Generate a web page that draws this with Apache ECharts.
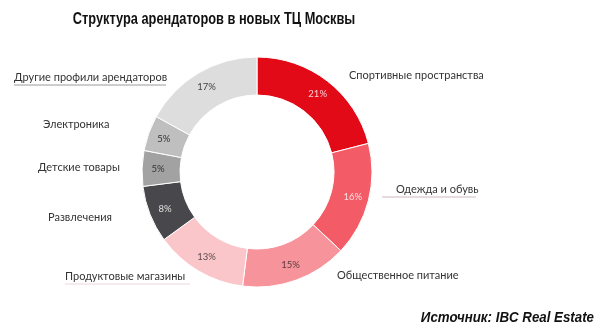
<!DOCTYPE html>
<html><head><meta charset="utf-8">
<script src="https://cdn.jsdelivr.net/npm/echarts@6/dist/echarts.min.js"></script>
<style>html,body{margin:0;padding:0;background:#fff}#c{width:600px;height:331px}</style>
</head><body><div id="c"></div>
<script>
const categories = ['Спортивные пространства','Одежда и обувь','Общественное питание','Продуктовые магазины','Развлечения','Детские товары','Электроника','Другие профили арендаторов'];
const values = [21,16,15,13,8,5,5,17];
const colors = ['#e20a17','#f35c66','#f7939a','#fbc6ca','#48484c','#a2a2a2','#bfbfbf','#dddddd'];
const pctColors = ['#fbd0d3','#fde0e2','#5a3a3c','#5a4a4c','#e0e0e0','#333333','#333333','#444444'];
const titleText = 'Структура арендаторов в новых ТЦ Москвы';
const sourceText = 'Источник: IBC Real Estate';
// label anchor positions (left x, centre y) for category names
const labelPos = [[349,75],[396,189],[337,275],[65,276],[48,217],[38,167],[43,124],[14,77]];
const underlines = [[382,197,476,197,'#c9b9bb'],[65,284,190,284,'#eed8da'],[14,85,166,85,'#9a9a9a']];

const chart = echarts.init(document.getElementById('c'), null, {renderer:'canvas'});
const data = categories.map((n,i)=>({name:n,value:values[i],itemStyle:{color:colors[i]}}));
chart.setOption({
  animation:false,
  series:[
    {type:'pie',center:[257,172],radius:[77,115],startAngle:90,clockwise:true,
     itemStyle:{borderColor:'#fff',borderWidth:1},
     label:{position:'inside',formatter:p=>p.value+'%',fontFamily:'Lato',fontSize:9.5,
       color:'#333'},
     labelLine:{show:false},
     data:data.map((d,i)=>Object.assign({},d,{label:{color:pctColors[i]}})),
     silent:true},
    {type:'pie',center:[257,172],radius:[77,115],startAngle:90,clockwise:true,
     itemStyle:{color:'rgba(0,0,0,0)'},
     label:{position:'outside',formatter:'{b}',fontFamily:'Lato',fontSize:11,color:'#333',
       overflow:'none',width:300},
     labelLine:{show:false},
     labelLayout:p=>({x:labelPos[p.dataIndex][0],y:labelPos[p.dataIndex][1],align:'left',verticalAlign:'middle'}),
     data:categories.map((n,i)=>({name:n,value:values[i]})),
     silent:true}
  ],
  graphic:underlines.map(u=>({type:'line',shape:{x1:u[0],y1:u[1],x2:u[2],y2:u[3]},style:{stroke:u[4],lineWidth:1}})).concat([
    {type:'text',x:214,y:20,scaleX:0.8,scaleY:1,
     style:{text:titleText,font:'bold 16px "Liberation Sans"',fill:'#111',align:'center',verticalAlign:'middle'}},
    {type:'text',x:594,y:318,scaleX:0.95,
     style:{text:sourceText,font:'italic bold 14px "Liberation Sans"',fill:'#111',align:'right',verticalAlign:'middle'}}
  ])
});
</script></body></html>
